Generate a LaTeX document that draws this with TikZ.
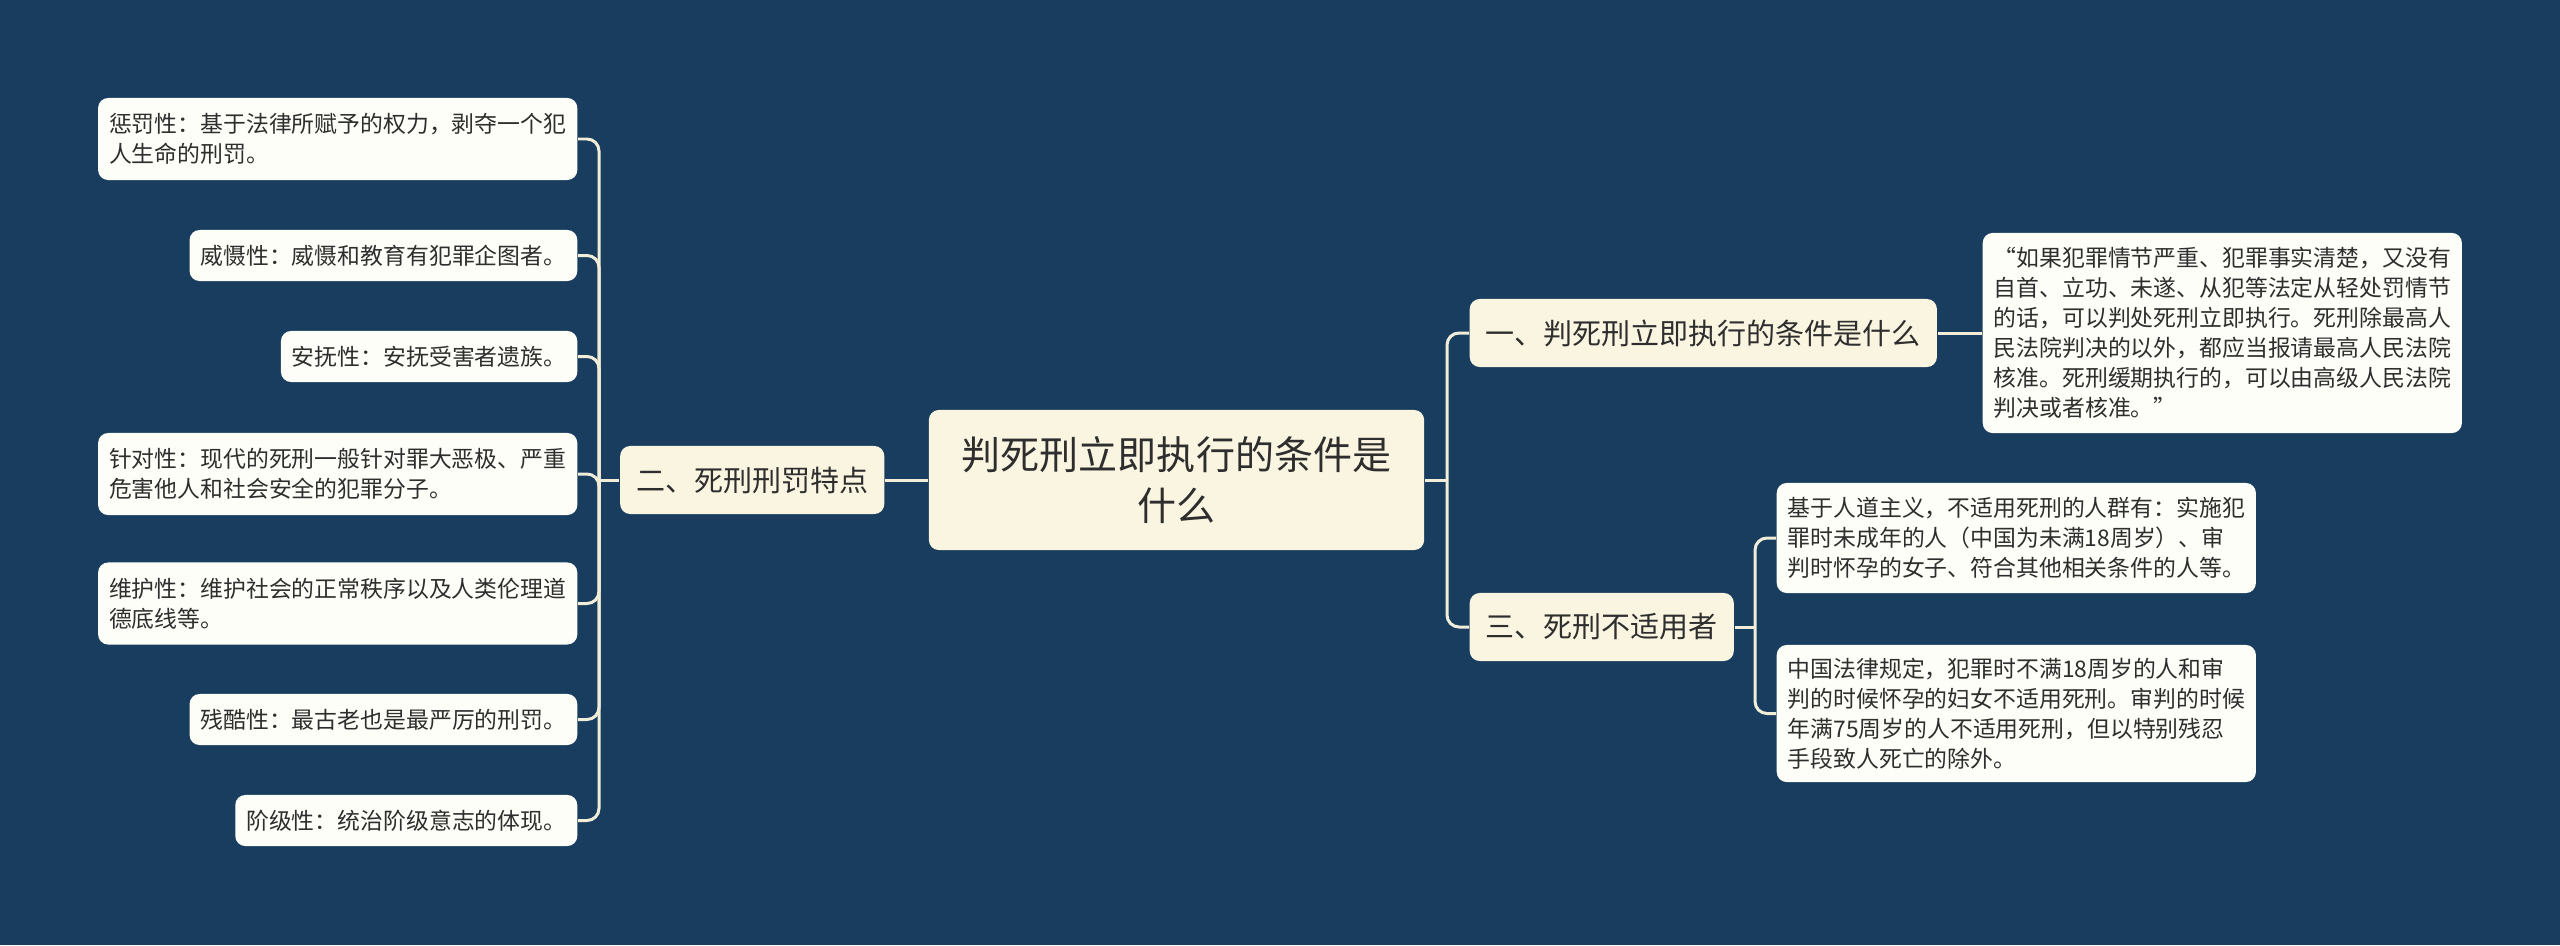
\documentclass[tikz,border=0pt]{standalone}
\usepackage{fontspec}
\newfontfamily\cjk{Noto Sans CJK SC}
\definecolor{bgc}{HTML}{183D5E}
\definecolor{leaffill}{HTML}{FEFEF8}
\definecolor{lvlfill}{HTML}{FAF5E1}
\definecolor{linec}{HTML}{F2EDD8}
\definecolor{txt}{HTML}{2E2E2E}
\begin{document}
\begin{tikzpicture}[x=0.01cm,y=-0.01cm,
  leaf/.style={fill=leaffill, rounded corners=0.1cm, text=txt, align=left,
    font={\cjk\fontsize{6.5pt}{8.54pt}\selectfont}, inner xsep=0.11cm, inner ysep=0cm},
  lvl/.style={fill=lvlfill, rounded corners=0.1cm, text=txt,
    font={\cjk\fontsize{8.25pt}{10pt}\selectfont}, inner xsep=0.16cm, inner ysep=0cm, minimum height=0.68cm},
  root/.style={fill=lvlfill, rounded corners=0.1cm, text=txt, align=center,
    font={\cjk\fontsize{11.1pt}{14.5pt}\selectfont}, minimum width=4.95cm, minimum height=1.40cm, inner sep=0cm},
  conn/.style={draw=linec, line width=0.85pt, rounded corners=0.12cm}]
\fill[bgc] (0,0) rectangle (2560,945);
\useasboundingbox (0,0) rectangle (2560,945);

% center and first level
\node[root] (root) at (1176.5,480) {判死刑立即执行的条件是\\什么};
\node[lvl, anchor=east] (b2) at (885,480) {二、死刑刑罚特点};
\node[lvl, anchor=west] (b1) at (1469,333) {一、判死刑立即执行的条件是什么};
\node[lvl, anchor=west] (b3) at (1469,627) {三、死刑不适用者};

% left leaves
\node[leaf, anchor=east, minimum height=0.82cm] (l1) at (578,139) {惩罚性：基于法律所赋予的权力，剥夺一个犯\\人生命的刑罚。};
\node[leaf, anchor=east, minimum height=0.51cm] (l2) at (578,255.5) {威慑性：威慑和教育有犯罪企图者。};
\node[leaf, anchor=east, minimum height=0.51cm] (l3) at (578,356.5) {安抚性：安抚受害者遗族。};
\node[leaf, anchor=east, minimum height=0.82cm] (l4) at (578,474) {针对性：现代的死刑一般针对罪大恶极、严重\\危害他人和社会安全的犯罪分子。};
\node[leaf, anchor=east, minimum height=0.82cm] (l5) at (578,603.5) {维护性：维护社会的正常秩序以及人类伦理道\\德底线等。};
\node[leaf, anchor=east, minimum height=0.51cm] (l6) at (578,719.5) {残酷性：最古老也是最严厉的刑罚。};
\node[leaf, anchor=east, minimum height=0.51cm] (l7) at (578,820.5) {阶级性：统治阶级意志的体现。};

% right leaves
\node[leaf, anchor=west, minimum height=2.00cm] (q1) at (1982,333) {“如果犯罪情节严重、犯罪事实清楚，又没有\\自首、立功、未遂、从犯等法定从轻处罚情节\\的话，可以判处死刑立即执行。死刑除最高人\\民法院判决的以外，都应当报请最高人民法院\\核准。死刑缓期执行的，可以由高级人民法院\\判决或者核准。”};
\node[leaf, anchor=west, minimum height=1.10cm] (q2) at (1776,538) {基于人道主义，不适用死刑的人群有：实施犯\\罪时未成年的人（中国为未满18周岁）、审\\判时怀孕的女子、符合其他相关条件的人等。};
\node[leaf, anchor=west, minimum height=1.37cm] (q3) at (1776,713.5) {中国法律规定，犯罪时不满18周岁的人和审\\判的时候怀孕的妇女不适用死刑。审判的时候\\年满75周岁的人不适用死刑，但以特别残忍\\手段致人死亡的除外。};

% junctions
\coordinate (jl) at (599,480);
\coordinate (jr) at (1447,480);
\coordinate (j3) at (1755,627);

% connectors
\draw[conn] (root.west) -- (b2.east);
\draw[conn] (b2.west) -- (jl);
\foreach \n in {l1,l2,l3,l4,l5,l6,l7} { \draw[conn] (jl) |- (\n.east); }
\draw[conn] (root.east) -- (jr);
\draw[conn] (jr) |- (b1.west);
\draw[conn] (jr) |- (b3.west);
\draw[conn] (b1.east) -- (q1.west);
\draw[conn] (b3.east) -- (j3);
\draw[conn] (j3) |- (q2.west);
\draw[conn] (j3) |- (q3.west);
\end{tikzpicture}
\end{document}
